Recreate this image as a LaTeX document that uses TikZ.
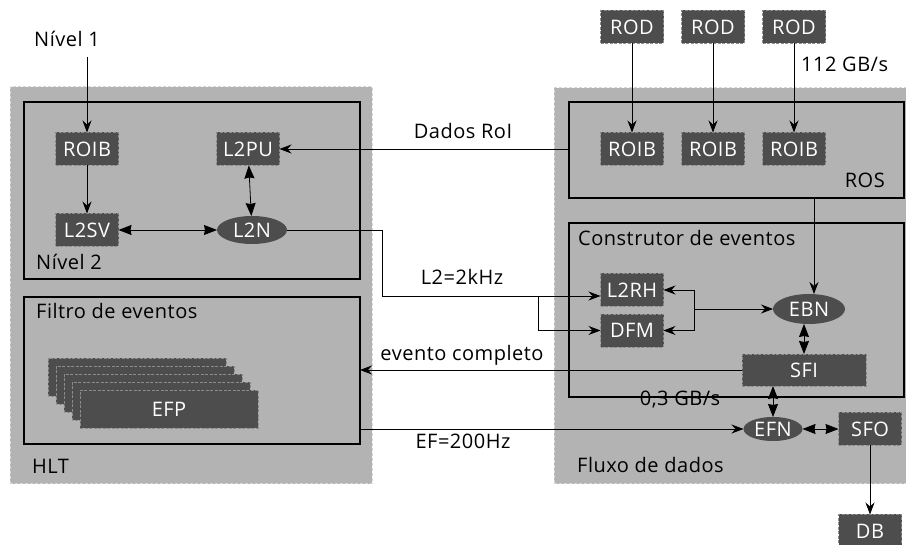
\documentclass[tikz,border=0pt]{standalone}
\usepackage{fontspec}
\setmainfont[LetterSpace=2.5]{Open Sans}
\usetikzlibrary{arrows.meta,calc,shapes.geometric}
\definecolor{regfill}{RGB}{179,179,179}
\definecolor{regline}{RGB}{215,215,215}
\definecolor{nodefill}{RGB}{77,77,77}
\definecolor{nodeline}{RGB}{140,140,140}
\begin{document}
\begin{tikzpicture}[x=1pt,y=-1pt,font=\fontsize{20}{24}\selectfont,
  region/.style={fill=regfill,draw=regline,dash pattern=on 3pt off 2pt,line width=1pt,inner sep=0,outer sep=0},
  frame/.style={draw=black,line width=1.6pt,inner sep=0,outer sep=0},
  proc/.style={fill=nodefill,draw=nodeline,dash pattern=on 3pt off 1.5pt,line width=0.8pt,text=white,minimum width=63pt,minimum height=33pt,inner sep=0,outer sep=0},
  ell/.style={ellipse,fill=nodefill,draw=none,text=white,inner sep=0,outer sep=0},
  conn/.style={line width=0.8pt,-{Stealth[length=12pt,width=9pt,inset=4pt]}},
  bidir/.style={line width=0.8pt,{Stealth[length=13pt,width=10pt,inset=1pt]}-{Stealth[length=13pt,width=10pt,inset=1pt]}},
  plain/.style={line width=0.8pt},
  lbl/.style={inner sep=0,anchor=base},
  lblw/.style={inner sep=0,anchor=base west},
  lble/.style={inner sep=0,anchor=base east}]
\useasboundingbox (0,0) rectangle (906,545);
\begin{scope}
\clip (0,0) rectangle (906,545);
% regions
\node[region,minimum width=362,minimum height=397] (hlt) at (191,285.5) {};
\node[region,minimum width=361,minimum height=396] (fluxo) at (734.5,286) {};
% frames
\node[frame,minimum width=336,minimum height=177] (level2) at (192,190.5) {};
\node[frame,minimum width=336,minimum height=147] (filtro) at (192,370.5) {};
\node[frame,minimum width=335,minimum height=96] (ros) at (736.5,150) {};
\node[frame,minimum width=335,minimum height=174] (constr) at (736.5,310) {};
% texts
\node[lbl] (nivel1) at (67,47) {Nível 1};
\node[lblw] (nivel2) at (36,270) {Nível 2};
\node[lblw] (filtrot) at (36,319) {Filtro de eventos};
\node[lblw] (hltt) at (32,474) {HLT};
\node[lblw] (constrt) at (578,246) {Construtor de eventos};
\node[lblw] (fluxot) at (577,473) {Fluxo de dados};
\node[lble] (rost) at (885,188) {ROS};
\node[lblw] (rate1) at (801,72) {112 GB/s};
\node[lbl] (dados) at (463,139) {Dados RoI};
\node[lbl] (l2rate) at (462,285) {L2=2kHz};
\node[lbl] (evc) at (462,361) {evento completo};
\node[lbl] (efrate) at (463,449) {EF=200Hz};
\node[lbl] (gbs) at (680,406) {0,3 GB/s};
% left nodes
\node[proc] (roibL) at (87,149) {ROIB};
\node[proc] (l2pu) at (248,149) {L2PU};
\node[proc] (l2sv) at (87,230) {L2SV};
\node[ell,minimum width=70,minimum height=28] (l2n) at (252,230) {L2N};
% EFP stack
\foreach \k in {0,1,2,3} {
  \path[fill=nodefill,draw=nodeline,dash pattern=on 3pt off 1.5pt,line width=0.8pt]
    (48+8*\k,358+8*\k) rectangle ++(178,38);
}
\node[proc,minimum width=178,minimum height=38] (efp) at (169,409) {EFP};
% right nodes
\node[proc] (rod1) at (632,27) {ROD};
\node[proc] (rod2) at (713,27) {ROD};
\node[proc] (rod3) at (794,27) {ROD};
\node[proc] (roib1) at (632,149) {ROIB};
\node[proc] (roib2) at (713,149) {ROIB};
\node[proc] (roib3) at (794,149) {ROIB};
\node[proc] (l2rh) at (632,290) {L2RH};
\node[proc] (dfm) at (632,330.5) {DFM};
\node[ell,minimum width=72,minimum height=30] (ebn) at (809,309) {EBN};
\node[proc,minimum width=124,minimum height=32] (sfi) at (804,370) {SFI};
\node[ell,minimum width=59,minimum height=24] (efn) at (773,429) {EFN};
\node[proc] (sfo) at (870,429) {SFO};
\node[proc] (db) at (870,531) {DB};
% coordinates
\coordinate (in1) at (87,57);
\coordinate (rx) at (814,0);
\coordinate (br) at (694,309);
\coordinate (j2) at (538,296);
% connectors
\draw[conn] (in1) -- (roibL.north);
\draw[conn] (roibL) -- (l2sv);
\draw[bidir] (l2sv) -- (l2n);
\draw[bidir] (l2pu) -- (l2n);
\draw[conn] (ros.west |- l2pu.east) -- (l2pu.east);
\draw[conn] (l2n.east) -- ++(95,0) |- ($(l2rh.west)+(0,6)$);
\draw[conn] (j2) |- (dfm.west);
\draw[conn] (br) |- (l2rh.east);
\draw[conn] (br) |- (dfm.east);
\draw[conn] (br) -- (ebn.west);
\draw[conn] (rx |- ros.south) -- (rx |- ebn.north);
\draw[bidir] (sfi.north) -- (sfi.north |- ebn.south);
\draw[conn] (sfi.west) -- (sfi.west -| filtro.east);
\draw[bidir] (efn.north) -- (efn.north |- sfi.south);
\draw[conn] (filtro.east |- efn.west) -- (efn.west);
\draw[bidir] (efn.east) -- (sfo.west);
\draw[conn] (sfo.south) -- (db.north);
\draw[conn] (rod1) -- (roib1);
\draw[conn] (rod2) -- (roib2);
\draw[conn] (rod3) -- (roib3);
\end{scope}
\end{tikzpicture}
\end{document}
